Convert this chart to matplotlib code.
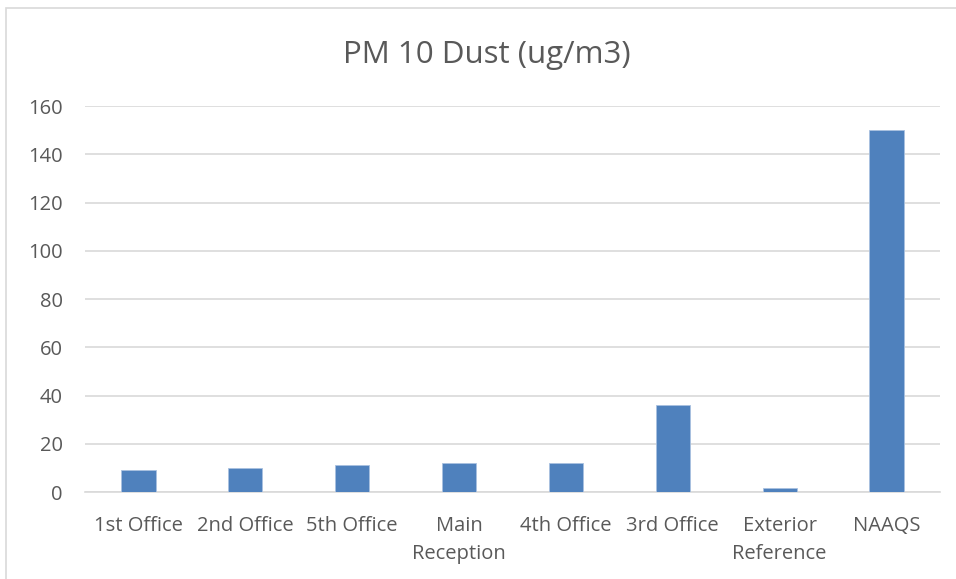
import matplotlib
matplotlib.use("Agg")
import matplotlib.pyplot as plt
from matplotlib.patches import Rectangle

categories = ["1st Office", "2nd Office", "5th Office", "Main\nReception",
              "4th Office", "3rd Office", "Exterior\nReference", "NAAQS"]
values = [9, 10, 11, 12, 12, 36, 1.5, 150]
yticks = [0, 20, 40, 60, 80, 100, 120, 140, 160]

plt.rcParams['font.family'] = ['Open Sans', 'DejaVu Sans']
txt = '#595959'
grid = '#d9d9d9'

fig = plt.figure(figsize=(9.56, 5.79), dpi=100)
ax = fig.add_axes([85/956, 1 - 492/579, 855/956, (492 - 106)/579])

x = range(len(categories))
ax.bar(x, values, width=0.32, color='#4f81bd', edgecolor='#a9c1e0', linewidth=0.6, zorder=3)
ax.set_xlim(-0.5, len(categories) - 0.5)
ax.set_ylim(0, 160)
ax.set_yticks(yticks)
ax.set_xticks(list(x))
ax.set_xticklabels(categories, color=txt, fontsize=14.5, linespacing=1.55)
ax.tick_params(axis='y', colors=txt, labelsize=14.5, length=0, pad=16)
ax.tick_params(axis='x', length=0, pad=17)
ax.yaxis.grid(True, color=grid, linewidth=1.2, zorder=0)
for s in ['left', 'right', 'top']:
    ax.spines[s].set_visible(False)
ax.spines['bottom'].set_color(grid)
ax.spines['bottom'].set_linewidth(1.2)

fig.text(487/956, 1 - 63/579, "PM 10 Dust (ug/m3)", ha='center', va='baseline',
         fontsize=22.5, color=txt)

fig.patches.append(Rectangle((6/956, -0.02), 1.0, 1 - 8/579 + 0.02,
                             transform=fig.transFigure, fill=False,
                             edgecolor=grid, linewidth=1.2))

fig.savefig("out.png", dpi=100, facecolor='white')
